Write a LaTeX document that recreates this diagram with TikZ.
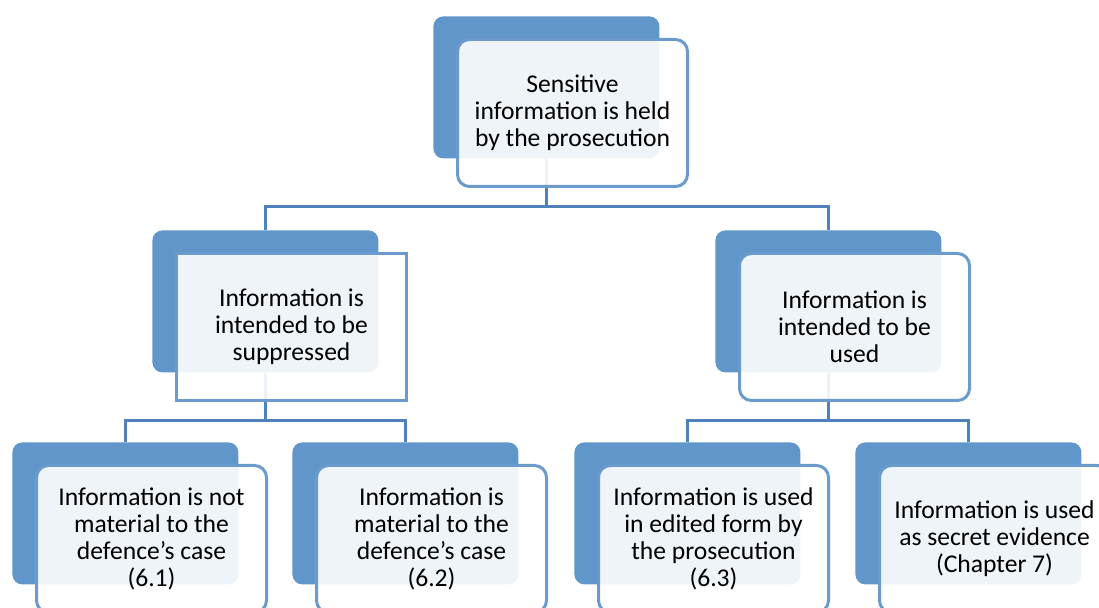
\documentclass[tikz,border=0pt]{standalone}
\usepackage{fontspec}
\setmainfont{Carlito}
\usetikzlibrary{positioning}
\definecolor{HierBlue}{HTML}{6096C9}
\definecolor{HierEdge}{HTML}{6A9BCC}
\definecolor{HierLink}{HTML}{4F81BD}

\begin{document}
\begin{tikzpicture}[x=0.5pt,y=-0.5pt,
 backbox/.style={fill=HierBlue,rounded corners=5pt,minimum width=113pt,minimum height=71pt,anchor=north west,inner sep=0pt},
 frontbox/.style={draw=HierEdge,line width=1.5pt,fill=white,fill opacity=0.9,text opacity=1,rounded corners=6pt,minimum width=115pt,minimum height=73.5pt,align=center,inner sep=0pt,font=\fontsize{12.8}{13.5}\selectfont},
 link/.style={draw=HierLink,line width=1.5pt}]
\clip (0,0) rectangle (1099,608);
% blue back cards
\node[backbox] (top) at (433,16) {};
\node[backbox] (midL) at (152,230) {};
\node[backbox] (midR) at (715,230) {};
\node[backbox] (b1) at (12,442) {};
\node[backbox] (b2) at (292,442) {};
\node[backbox] (b3) at (574,442) {};
\node[backbox] (b4) at (855,442) {};
% tree connectors
\coordinate[below=24pt of top.south] (topfork);
\draw[link] (top.south) -- (topfork) -| (midL.north);
\draw[link] (topfork) -| (midR.north);
\coordinate[below=24pt of midL.south] (leftfork);
\draw[link] (midL.south) -- (leftfork) -| (b1.north);
\draw[link] (leftfork) -| (b2.north);
\coordinate[below=24pt of midR.south] (rightfork);
\draw[link] (midR.south) -- (rightfork) -| (b3.north);
\draw[link] (rightfork) -| (b4.north);
% white front cards with the text
\node[frontbox,below right=11pt and 11.5pt of top.north west] (topT) {Sensitive\\information is held\\by the prosecution};
\node[frontbox,rounded corners=0pt,below right=11pt and 11.5pt of midL.north west] (midLT) {Information is\\intended to be\\suppressed};
\node[frontbox,below right=11pt and 11.5pt of midR.north west] (midRT) {Information is\\intended to be\\used};
\node[frontbox,below right=11pt and 11.5pt of b1.north west] (b1T) {Information is not\\material to the\\defence’s case\\(6.1)};
\node[frontbox,below right=11pt and 11.5pt of b2.north west] (b2T) {Information is\\material to the\\defence’s case\\(6.2)};
\node[frontbox,below right=11pt and 11.5pt of b3.north west] (b3T) {Information is used\\in edited form by\\the prosecution\\(6.3)};
\node[frontbox,below right=11pt and 11.5pt of b4.north west] (b4T) {Information is used\\as secret evidence\\(Chapter 7)};
\end{tikzpicture}
\end{document}
